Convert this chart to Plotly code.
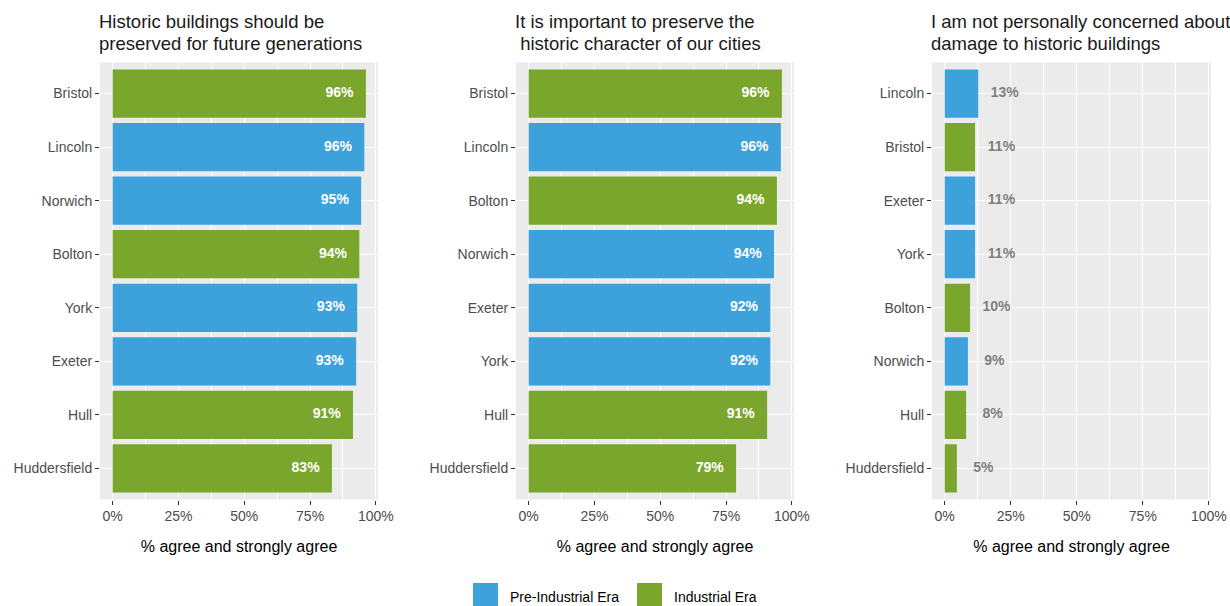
import plotly.graph_objects as go

# ---------------- data ----------------
era_colors = {"Pre-Industrial Era": "#3DA2DC", "Industrial Era": "#7AA62D"}

p1_title = ["Historic buildings should be", "preserved for future generations"]
p1_cities = ["Bristol", "Lincoln", "Norwich", "Bolton", "York", "Exeter", "Hull", "Huddersfield"]
p1_values = [0.962, 0.956, 0.944, 0.937, 0.929, 0.925, 0.913, 0.833]
p1_labels = ["96%", "96%", "95%", "94%", "93%", "93%", "91%", "83%"]
p1_era = ["Industrial Era", "Pre-Industrial Era", "Pre-Industrial Era", "Industrial Era",
          "Pre-Industrial Era", "Pre-Industrial Era", "Industrial Era", "Industrial Era"]

p2_title = ["It is important to preserve the", "\u00a0historic character of our cities"]
p2_cities = ["Bristol", "Lincoln", "Bolton", "Norwich", "Exeter", "York", "Hull", "Huddersfield"]
p2_values = [0.962, 0.958, 0.943, 0.932, 0.918, 0.918, 0.906, 0.788]
p2_labels = ["96%", "96%", "94%", "94%", "92%", "92%", "91%", "79%"]
p2_era = ["Industrial Era", "Pre-Industrial Era", "Industrial Era", "Pre-Industrial Era",
          "Pre-Industrial Era", "Pre-Industrial Era", "Industrial Era", "Industrial Era"]

p3_title = ["I am not personally concerned about", "damage to historic buildings"]
p3_cities = ["Lincoln", "Bristol", "Exeter", "York", "Bolton", "Norwich", "Hull", "Huddersfield"]
p3_values = [0.127, 0.115, 0.115, 0.115, 0.096, 0.088, 0.081, 0.046]
p3_labels = ["13%", "11%", "11%", "11%", "10%", "9%", "8%", "5%"]
p3_era = ["Pre-Industrial Era", "Industrial Era", "Pre-Industrial Era", "Pre-Industrial Era",
          "Industrial Era", "Pre-Industrial Era", "Industrial Era", "Industrial Era"]

x_ticks = [0, 0.25, 0.5, 0.75, 1.0]
x_ticktext = ["0%", "25%", "50%", "75%", "100%"]
x_minor = [0.125, 0.375, 0.625, 0.875]
x_title = "% agree and strongly agree"
legend_items = ["Pre-Industrial Era", "Industrial Era"]

# ---------------- figure ----------------
W, H = 1230, 606
FONT = "Liberation Sans, Arial, sans-serif"
fig = go.Figure()

panels = [
    dict(title=p1_title, cities=p1_cities, values=p1_values, labels=p1_labels, era=p1_era,
         dom=(100, 378), inside=True),
    dict(title=p2_title, cities=p2_cities, values=p2_values, labels=p2_labels, era=p2_era,
         dom=(516, 794), inside=True),
    dict(title=p3_title, cities=p3_cities, values=p3_values, labels=p3_labels, era=p3_era,
         dom=(932, 1211), inside=False),
]

y_dom = [1 - 499.5 / H, 1 - 62.5 / H]
annotations = []
shapes = []

for i, p in enumerate(panels, start=1):
    xa = "x" if i == 1 else f"x{i}"
    ya = "y" if i == 1 else f"y{i}"
    fig.add_trace(go.Bar(
        x=p["values"], y=p["cities"], orientation="h",
        marker=dict(color=[era_colors[e] for e in p["era"]], line=dict(width=0)),
        width=0.9, xaxis=xa, yaxis=ya, showlegend=False, hoverinfo="skip",
    ))
    if p["inside"]:
        tx = [v - 0.10 for v in p["values"]]
        tcol = "#FFFFFF"
    else:
        tx = [v + 0.10 for v in p["values"]]
        tcol = "#7F7F7F"
    fig.add_trace(go.Scatter(
        x=tx, y=p["cities"], mode="text", text=p["labels"],
        textfont=dict(family=FONT, size=14, color=tcol, weight="bold"),
        textposition="middle center", xaxis=xa, yaxis=ya, showlegend=False, hoverinfo="skip",
    ))
    xkey = "xaxis" if i == 1 else f"xaxis{i}"
    ykey = "yaxis" if i == 1 else f"yaxis{i}"
    fig.update_layout(**{
        xkey: dict(
            domain=[p["dom"][0] / W, p["dom"][1] / W], anchor=ya, automargin=False,
            range=[-0.048, 1.008], tickvals=x_ticks, ticktext=x_ticktext,
            showgrid=True, gridcolor="white", gridwidth=1.3, zeroline=False,
            ticks="outside", ticklen=4, tickcolor="#333333", tickwidth=1.1,
            tickfont=dict(family=FONT, size=14, color="#4D4D4D"),
            minor=dict(tickvals=x_minor, showgrid=True, gridcolor="white", gridwidth=0.6, ticks=""),
            showline=False, fixedrange=True,
            title=dict(text=x_title, font=dict(family=FONT, size=16, color="#000000"), standoff=17),
        ),
        ykey: dict(
            domain=y_dom, anchor=xa, type="category", automargin=False,
            categoryorder="array", categoryarray=p["cities"],
            range=[7.58, -0.58],
            showgrid=True, gridcolor="white", gridwidth=1.3, zeroline=False,
            ticks="outside", ticklen=4, tickcolor="#333333", tickwidth=1.1,
            tickfont=dict(family=FONT, size=14, color="#4D4D4D"),
            showline=False, fixedrange=True,
        ),
    })
    for line_text, ly in zip(p["title"], [22, 44]):
        annotations.append(dict(
            text=line_text, xref="paper", yref="paper",
            x=(p["dom"][0] - 3) / W, y=1 - ly / H, xanchor="left", yanchor="middle", align="left",
            showarrow=False, font=dict(family=FONT, size=18.5, color="#1A1A1A"),
        ))

# legend (drawn manually, ggplot style)
leg_x = [473, 637]
for name, lx in zip(legend_items, leg_x):
    shapes.append(dict(type="rect", xref="paper", yref="paper",
                       x0=lx / W, x1=(lx + 25) / W, y0=1 - 607 / H, y1=1 - 583 / H,
                       fillcolor=era_colors[name], line=dict(width=0)))
    annotations.append(dict(text=name, xref="paper", yref="paper",
                            x=(lx + 35) / W, y=1 - 597 / H, xanchor="left", yanchor="middle",
                            showarrow=False, font=dict(family=FONT, size=14, color="#000000")))

fig.update_layout(
    width=W, height=H, margin=dict(l=0, r=0, t=0, b=0, autoexpand=False),
    paper_bgcolor="white", plot_bgcolor="#EBEBEB",
    bargap=0.1, showlegend=False,
    annotations=annotations, shapes=shapes,
    font=dict(family=FONT),
)

fig.write_html("out.html", config={"displayModeBar": False},
               post_script="document.body.style.margin='0';document.body.style.overflow='hidden';")
